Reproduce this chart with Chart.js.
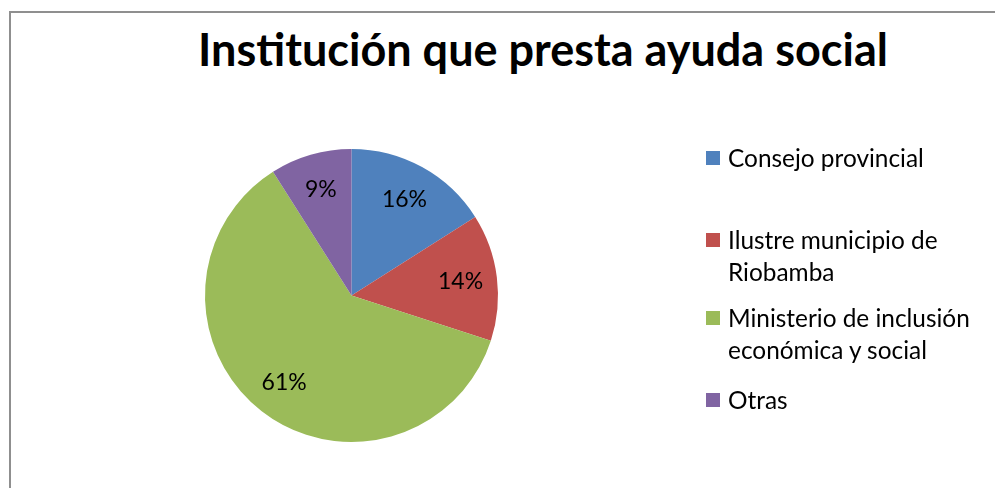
<!DOCTYPE html>
<html>
<head>
<meta charset="utf-8">
<script src="https://cdn.jsdelivr.net/npm/chart.js@4"></script>
<style>
    html, body { margin: 0; padding: 0; background: #fff; }
    #wrap { position: relative; width: 995px; height: 488px; overflow: hidden; font-family: Lato, "Open Sans", sans-serif; }
    #frame { position: absolute; left: 9px; top: 11px; width: 1100px; height: 600px; border-left: 2px solid #8f8f8f; border-top: 2px solid #8f8f8f; }
    #title { position: absolute; left: 0; top: 22px; width: 1086px; text-align: center; font-weight: bold; font-size: 45px; line-height: 54px; color: #000; }
    canvas { position: absolute; left: 0; top: 0; }
    .item { position: absolute; left: 706px; display: flex; align-items: flex-start; font-size: 24.4px; line-height: 32px; color: #000; }
    .swatch { width: 14px; height: 14px; margin-top: 9px; margin-right: 8px; }
</style>
</head>
<body>
<div id="wrap">
    <div id="frame"></div>
    <div id="title">Institución que presta ayuda social</div>
    <canvas id="chart1" width="995" height="488"></canvas>
    <div id="legend"></div>
</div>
<script>
const categories = ['Consejo provincial', ['Ilustre municipio de', 'Riobamba'], ['Ministerio de inclusión', 'económica y social'], 'Otras'];
const shares = [16, 14, 61, 9];
const colors = ['#4F81BD', '#C0504D', '#9BBB59', '#8064A2'];

// labels inside the slices
const sliceLabels = {
    id: 'sliceLabels',
    afterDatasetsDraw(chart) {
        const ctx = chart.ctx;
        const meta = chart.getDatasetMeta(0);
        ctx.save();
        ctx.font = '23px Lato, "Open Sans", sans-serif';
        ctx.fillStyle = '#000';
        ctx.textAlign = 'center';
        ctx.textBaseline = 'middle';
        meta.data.forEach(function (arc, i) {
            const p = arc.getProps(['x', 'y', 'startAngle', 'endAngle', 'outerRadius'], true);
            const mid = (p.startAngle + p.endAngle) / 2;
            const r = p.outerRadius * 0.75;
            ctx.fillText(shares[i] + '%', p.x + Math.cos(mid) * r, p.y + Math.sin(mid) * r);
        });
        ctx.restore();
    }
};

window.onload = function () {
    const ctx1 = document.getElementById('chart1').getContext('2d');
    new Chart(ctx1, {
        type: 'pie',
        data: {
            labels: categories,
            datasets: [{data: shares, backgroundColor: colors, borderWidth: 0}]
        },
        options: {
            responsive: false,
            animation: false,
            layout: {padding: {top: 149, bottom: 46, left: 205, right: 497}},
            plugins: {legend: {display: false}, tooltip: {enabled: false}}
        },
        plugins: [sliceLabels]
    });

    // legend on the right
    const tops = [142, 224, 302, 384];
    const legend = document.getElementById('legend');
    categories.forEach(function (name, i) {
        const item = document.createElement('div');
        item.className = 'item';
        item.style.top = tops[i] + 'px';
        const sw = document.createElement('div');
        sw.className = 'swatch';
        sw.style.background = colors[i];
        const txt = document.createElement('div');
        txt.innerHTML = [].concat(name).join('<br>');
        item.appendChild(sw);
        item.appendChild(txt);
        legend.appendChild(item);
    });
}
</script>
</body>
</html>
